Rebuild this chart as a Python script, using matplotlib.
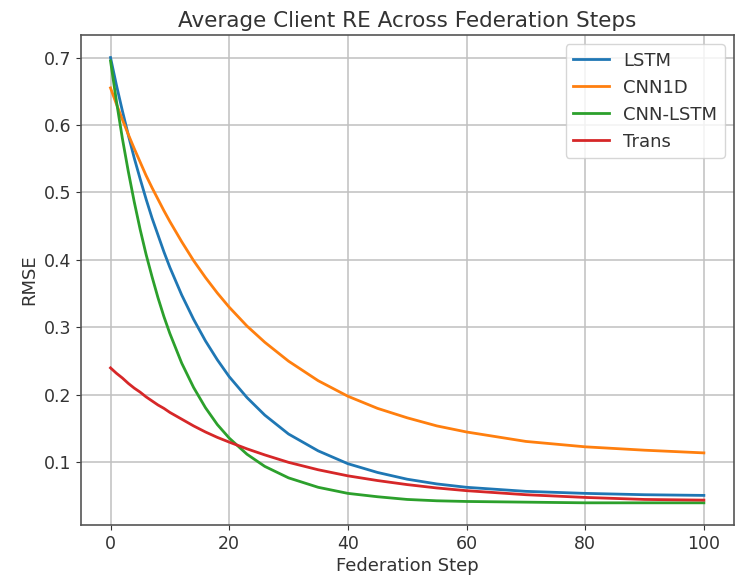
import matplotlib
matplotlib.use("Agg")
import matplotlib.pyplot as plt

steps = [0, 1, 2, 3, 4, 5, 6, 7, 8, 9, 10, 12, 14, 16, 18, 20, 23, 26, 30,
         35, 40, 45, 50, 55, 60, 70, 80, 90, 100]

lstm = [0.700, 0.659, 0.621, 0.585, 0.551, 0.520, 0.490, 0.462, 0.437, 0.412,
        0.389, 0.348, 0.312, 0.280, 0.252, 0.227, 0.196, 0.170, 0.142, 0.117,
        0.098, 0.085, 0.075, 0.068, 0.063, 0.057, 0.054, 0.052, 0.051]
cnn1d = [0.655, 0.631, 0.608, 0.586, 0.565, 0.545, 0.525, 0.507, 0.490, 0.473,
         0.457, 0.427, 0.399, 0.374, 0.351, 0.330, 0.302, 0.278, 0.250, 0.221,
         0.198, 0.180, 0.166, 0.154, 0.145, 0.131, 0.123, 0.118, 0.114]
cnn_lstm = [0.695, 0.635, 0.580, 0.531, 0.486, 0.445, 0.408, 0.375, 0.344, 0.316,
            0.291, 0.247, 0.211, 0.181, 0.156, 0.136, 0.112, 0.094, 0.077, 0.063,
            0.054, 0.049, 0.045, 0.043, 0.042, 0.041, 0.040, 0.040, 0.040]
trans = [0.240, 0.232, 0.225, 0.217, 0.210, 0.204, 0.197, 0.191, 0.185, 0.180,
         0.174, 0.164, 0.154, 0.145, 0.137, 0.130, 0.120, 0.111, 0.100, 0.089,
         0.080, 0.073, 0.067, 0.062, 0.058, 0.052, 0.048, 0.045, 0.044]

series = [("LSTM", lstm), ("CNN1D", cnn1d), ("CNN-LSTM", cnn_lstm), ("Trans", trans)]

txt = "#333333"
fig = plt.figure(figsize=(7.35, 5.88), dpi=100)
ax = fig.add_axes([0.110, 0.107, 0.888, 0.833])

for name, vals in series:
    ax.plot(steps, vals, label=name, linewidth=2)

ax.set_title("Average Client RE Across Federation Steps", fontsize=15.5, color=txt)
ax.set_xlabel("Federation Step", fontsize=13, color=txt, labelpad=3)
ax.set_ylabel("RMSE", fontsize=13, color=txt)
ax.tick_params(labelsize=12.5, color=txt, labelcolor=txt)
ax.grid(True, color="#c0c0c0", linewidth=1.1)
for sp in ax.spines.values():
    sp.set_color("#555555")
    sp.set_linewidth(1.2)
leg = ax.legend(loc="upper right", fontsize=13)
for t in leg.get_texts():
    t.set_color(txt)

fig.savefig("out.png", dpi=100)
